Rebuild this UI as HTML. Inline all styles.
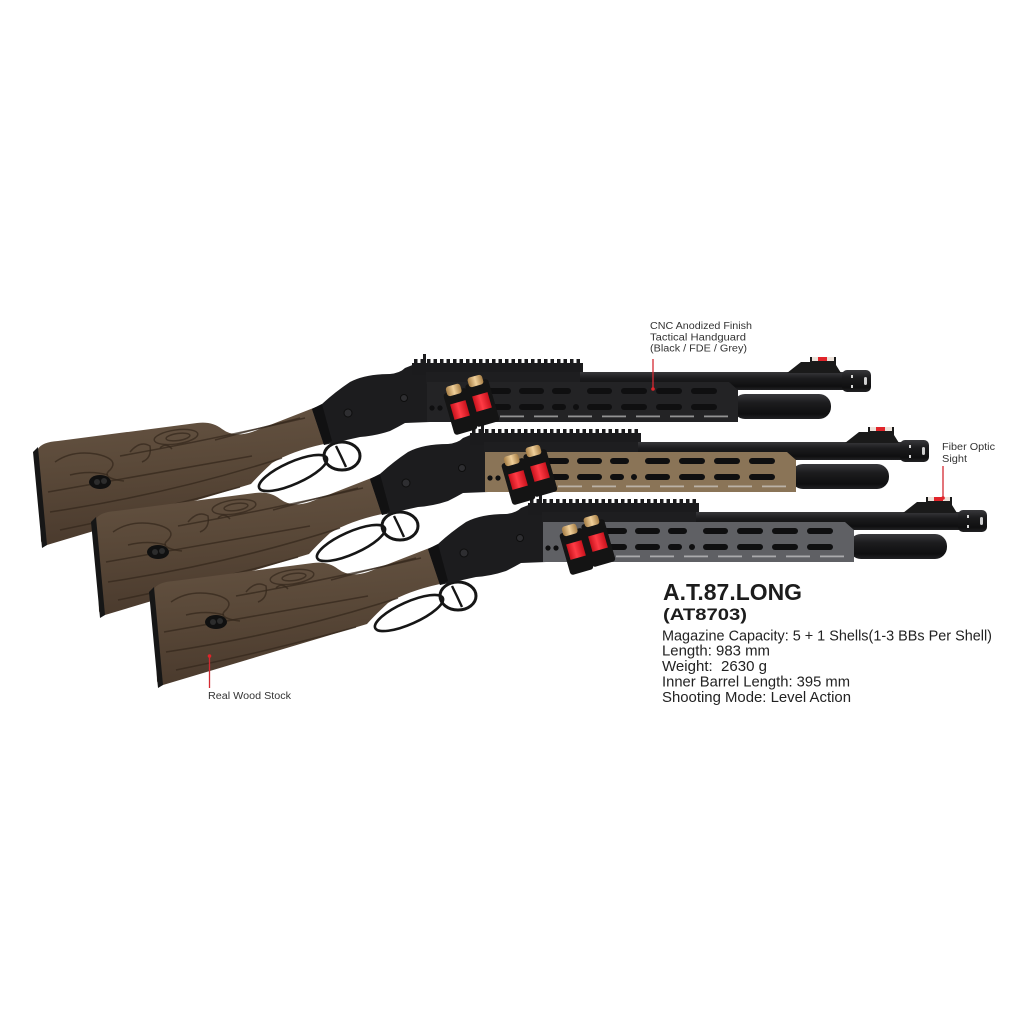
<!DOCTYPE html>
<html>
<head>
<meta charset="utf-8">
<style>
html,body{margin:0;padding:0;background:#fff;}
svg{display:block;}
.lbl{font-family:"Liberation Sans",Arial,sans-serif;font-size:10px;fill:#333;}
.body{font-family:"Liberation Sans",Arial,sans-serif;font-size:15px;fill:#222;}
.ttl{font-family:"Liberation Sans",Arial,sans-serif;font-weight:700;fill:#1c1c1c;}
</style>
</head>
<body>
<svg width="1024" height="1024" viewBox="0 0 1024 1024" xmlns="http://www.w3.org/2000/svg">
<defs>
  <linearGradient id="wood" x1="0" y1="0" x2="0.15" y2="1">
    <stop offset="0" stop-color="#665443"/>
    <stop offset="0.5" stop-color="#594838"/>
    <stop offset="1" stop-color="#4a3a2d"/>
  </linearGradient>
  <linearGradient id="bar" x1="0" y1="0" x2="0" y2="1">
    <stop offset="0" stop-color="#38383b"/>
    <stop offset="0.35" stop-color="#1c1c1e"/>
    <stop offset="0.8" stop-color="#0f0f10"/>
    <stop offset="1" stop-color="#222224"/>
  </linearGradient>
  <linearGradient id="red" x1="0" y1="0" x2="1" y2="0">
    <stop offset="0" stop-color="#c8121c"/>
    <stop offset="0.45" stop-color="#ff3b45"/>
    <stop offset="1" stop-color="#c8121c"/>
  </linearGradient>
  <linearGradient id="brass" x1="0" y1="0" x2="1" y2="0">
    <stop offset="0" stop-color="#a57d45"/>
    <stop offset="0.5" stop-color="#f0d09a"/>
    <stop offset="1" stop-color="#a57d45"/>
  </linearGradient>

  <g id="body">
    <!-- stock -->
    <path d="M38,449 Q42,442 58,441 L197,423 Q212,421 222,429 Q234,438 252,432 L316,407 L324,444 Q292,451 272,463 Q259,475 251,484 L47,545 Q42,546 41,541 Z" fill="url(#wood)"/>
    <g fill="none" stroke="#33261b" stroke-opacity="0.7" stroke-width="1.5">
      <path d="M55,462 Q72,450 96,454 Q120,459 110,470 Q100,478 124,481"/>
      <ellipse cx="176" cy="437" rx="22" ry="7" transform="rotate(-8 176 437)"/>
      <ellipse cx="178" cy="437" rx="12" ry="3.5" transform="rotate(-8 178 437)"/>
      <path d="M130,452 Q140,440 150,446 Q152,458 142,462"/>
      <path d="M48,492 Q150,474 252,456"/>
      <path d="M50,512 Q170,494 282,458"/>
      <path d="M120,456 Q210,440 305,418"/>
      <path d="M60,530 Q150,512 240,487"/>
      <path d="M215,440 Q260,428 300,418"/>
      <path d="M70,475 Q90,470 108,475"/>
      <path d="M160,448 Q166,442 172,449"/>
    </g>
    <path d="M33,452 L38,447 L47,545 L42,548 Z" fill="#161616"/>
    <ellipse cx="100" cy="482" rx="11" ry="7" fill="#101010"/>
    <circle cx="97" cy="482" r="3" fill="#2c2c2c"/>
    <circle cx="104" cy="481" r="3" fill="#2c2c2c"/>
    <!-- lever -->
    <ellipse cx="293" cy="473" rx="37" ry="11" transform="rotate(-24 293 473)" fill="none" stroke="#161616" stroke-width="2.6"/>
    <ellipse cx="342" cy="456" rx="18" ry="14" fill="none" stroke="#161616" stroke-width="3"/>
    <path d="M336,446 Q341,456 346,467" stroke="#161616" stroke-width="2.4" fill="none"/>
    <!-- receiver -->
    <path d="M312,409 L322,404 Q335,392 350,382 Q365,374 390,374 Q400,373 405,368 L415,364 L430,364 L430,422 L405,423 Q398,427 390,431 Q375,436 360,437 L324,445 Z" fill="#1c1c1e"/>
    <path d="M312,409 L322,404 L332,441 L324,445 Z" fill="#111112"/>
    <circle cx="348" cy="413" r="4" fill="#2e2e31" stroke="#0e0e0e" stroke-width="1"/>
    <circle cx="404" cy="398" r="3.5" fill="#2e2e31" stroke="#0e0e0e" stroke-width="1"/>
    <!-- rail / upper -->
    <rect x="412" y="363" width="171" height="12" fill="#1b1b1d"/>
    <line x1="414" y1="361" x2="583" y2="361" stroke="#1b1b1d" stroke-width="4" stroke-dasharray="3.5 3"/>
    <rect x="423" y="354" width="3" height="9" fill="#1b1b1d"/>
    <rect x="426" y="372" width="160" height="12" fill="#1e1e20"/>
    <!-- barrel -->
    <rect x="580" y="372" width="265" height="18" fill="url(#bar)"/>
    <polygon points="787,373 801,362 810,362 810,357 836,357 836,365 841,373" fill="#1a1a1a"/>
    <rect x="812" y="357" width="22" height="4" fill="#ece2da"/>
    <rect x="818" y="357" width="9" height="4" fill="#e0242a"/>
    <rect x="842" y="370" width="29" height="22" rx="5" fill="url(#bar)"/>
    <rect x="851" y="375" width="2" height="3" fill="#d8d8d8"/>
    <rect x="851" y="385" width="2" height="3" fill="#d8d8d8"/>
    <rect x="864" y="377" width="3" height="8" rx="1.5" fill="#cfcfcf"/>
    <!-- mag tube -->
    <rect x="733" y="394" width="98" height="25" rx="12" fill="url(#bar)"/>
    <!-- handguard (fill inherited) -->
    <path d="M427,382 L729,382 L738,390 L738,422 L427,422 Z"/>
    <g fill="#0f0f10">
      <rect x="487" y="388" width="24" height="6" rx="3"/>
      <rect x="519" y="388" width="25" height="6" rx="3"/>
      <rect x="552" y="388" width="19" height="6" rx="3"/>
      <rect x="587" y="388" width="25" height="6" rx="3"/>
      <rect x="621" y="388" width="26" height="6" rx="3"/>
      <rect x="656" y="388" width="26" height="6" rx="3"/>
      <rect x="691" y="388" width="26" height="6" rx="3"/>
      <rect x="487" y="404" width="24" height="6" rx="3"/>
      <rect x="519" y="404" width="25" height="6" rx="3"/>
      <rect x="552" y="404" width="14" height="6" rx="3"/>
      <circle cx="576" cy="407" r="3"/>
      <rect x="587" y="404" width="25" height="6" rx="3"/>
      <rect x="621" y="404" width="26" height="6" rx="3"/>
      <rect x="656" y="404" width="26" height="6" rx="3"/>
      <rect x="691" y="404" width="26" height="6" rx="3"/>
      <circle cx="432" cy="408" r="2.6"/>
      <circle cx="440" cy="408" r="2.6"/>
    </g>
    <g fill="#dcdcdc" fill-opacity="0.6">
      <rect x="470" y="415.5" width="24" height="1.8"/>
      <rect x="500" y="415.5" width="24" height="1.8"/>
      <rect x="534" y="415.5" width="24" height="1.8"/>
      <rect x="568" y="415.5" width="24" height="1.8"/>
      <rect x="602" y="415.5" width="24" height="1.8"/>
      <rect x="636" y="415.5" width="24" height="1.8"/>
      <rect x="670" y="415.5" width="24" height="1.8"/>
      <rect x="704" y="415.5" width="24" height="1.8"/>
    </g>
  </g>

  <g id="shells">
    <g transform="rotate(-16 460 410)">
      <rect x="448" y="390" width="24" height="43" rx="3" fill="#141414"/>
      <rect x="452" y="384" width="15" height="10" rx="3" fill="url(#brass)"/>
      <rect x="452" y="402" width="16" height="16" fill="url(#red)"/>
    </g>
    <g transform="rotate(-16 482 402)">
      <rect x="470" y="381" width="24" height="44" rx="3" fill="#141414"/>
      <rect x="474" y="375" width="15" height="10" rx="3" fill="url(#brass)"/>
      <rect x="474" y="394" width="16" height="16" fill="url(#red)"/>
    </g>
  </g>
</defs>

<rect width="1024" height="1024" fill="#fff"/>

<use href="#body" fill="#232325"/>
<use href="#body" transform="translate(58,70)" fill="#8a7457"/>
<use href="#shells"/>
<use href="#body" transform="translate(116,140)" fill="#5f6064"/>
<use href="#shells" transform="translate(58,70)"/>
<use href="#shells" transform="translate(116,140)"/>

<!-- callouts -->
<text class="lbl" x="650" y="329" textLength="102" lengthAdjust="spacingAndGlyphs">CNC Anodized Finish</text>
<text class="lbl" x="650" y="340.5" textLength="96" lengthAdjust="spacingAndGlyphs">Tactical Handguard</text>
<text class="lbl" x="650" y="351.5" textLength="97" lengthAdjust="spacingAndGlyphs">(Black / FDE / Grey)</text>
<line x1="653" y1="359" x2="653" y2="389" stroke="#d42a32" stroke-width="1.3"/>
<circle cx="653" cy="389" r="1.8" fill="#e0242a"/>

<text class="lbl" x="942" y="450" textLength="53" lengthAdjust="spacingAndGlyphs">Fiber Optic</text>
<text class="lbl" x="942" y="462" textLength="25" lengthAdjust="spacingAndGlyphs">Sight</text>
<line x1="943" y1="466" x2="943" y2="498" stroke="#d42a32" stroke-width="1.3"/>
<circle cx="943" cy="498" r="1.8" fill="#e0242a"/>

<line x1="209.5" y1="656" x2="209.5" y2="688" stroke="#d42a32" stroke-width="1.3"/>
<circle cx="209.5" cy="656" r="1.8" fill="#e0242a"/>
<text class="lbl" x="208" y="699" textLength="83" lengthAdjust="spacingAndGlyphs">Real Wood Stock</text>

<!-- spec block -->
<text class="ttl" x="663" y="600" font-size="23" textLength="139" lengthAdjust="spacingAndGlyphs">A.T.87.LONG</text>
<text class="ttl" x="663" y="620" font-size="17" textLength="84" lengthAdjust="spacingAndGlyphs">(AT8703)</text>
<text class="body" x="662" y="640.5" textLength="330" lengthAdjust="spacingAndGlyphs">Magazine Capacity: 5 + 1 Shells(1-3 BBs Per Shell)</text>
<text class="body" x="662" y="655.5" textLength="108" lengthAdjust="spacingAndGlyphs">Length: 983 mm</text>
<text class="body" x="662" y="671" textLength="105" lengthAdjust="spacingAndGlyphs">Weight:&#160; 2630 g</text>
<text class="body" x="662" y="686.5" textLength="188" lengthAdjust="spacingAndGlyphs">Inner Barrel Length: 395 mm</text>
<text class="body" x="662" y="702" textLength="189" lengthAdjust="spacingAndGlyphs">Shooting Mode: Level Action</text>
</svg>
</body>
</html>
